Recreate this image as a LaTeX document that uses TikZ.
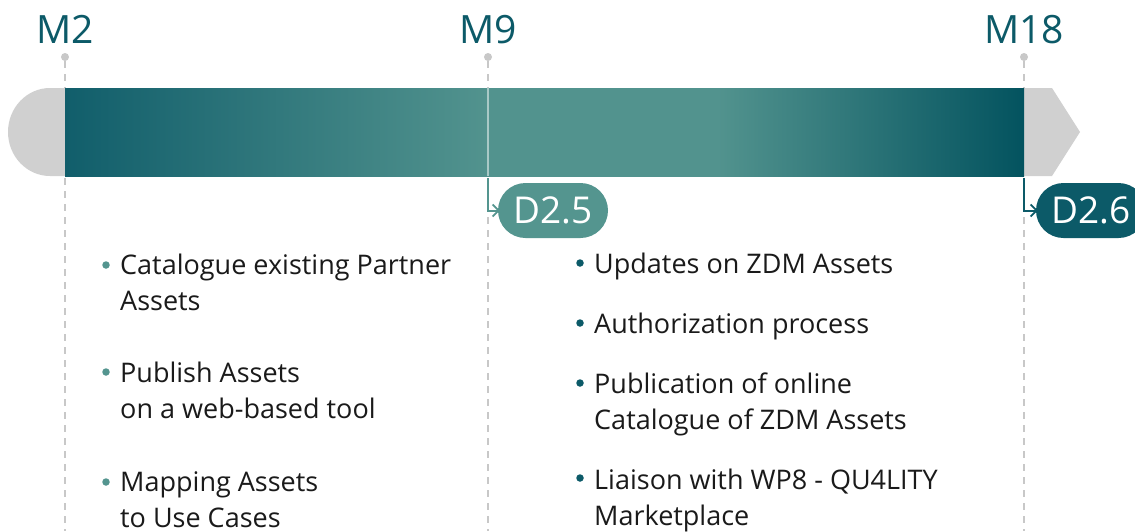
\documentclass[tikz,border=0pt]{standalone}
\usepackage{fontspec}
\setmainfont{Open Sans}
\usetikzlibrary{arrows.meta}
\definecolor{tealdark}{HTML}{0C5A68}
\definecolor{barleft}{HTML}{115E6B}
\definecolor{barright}{HTML}{03535F}
\definecolor{teallight}{HTML}{54958F}
\definecolor{barlight}{HTML}{52938E}
\definecolor{capgray}{HTML}{D0D0D0}
\definecolor{linegray}{HTML}{C8C8C8}
\definecolor{txt}{HTML}{1A1A1A}
\pgfdeclarehorizontalshading{barshade}{100bp}{color(0bp)=(barleft); color(25bp)=(barleft); color(47bp)=(barlight); color(59bp)=(barlight); color(75bp)=(barright); color(100bp)=(barright)}
\tikzset{
  x=1pt,y=-1pt,
  mlabel/.style={text=tealdark,font=\fontsize{39}{39}\selectfont,anchor=base,inner sep=0pt},
  mdot/.style={circle,fill=linegray,inner sep=0pt,minimum size=8pt},
  guide/.style={linegray,line width=1.3pt,dash pattern=on 7pt off 6pt},
  pill/.style={rounded corners=27.5pt,minimum width=110pt,minimum height=55pt,inner sep=0pt,text=white,font=\fontsize{37}{37}\selectfont},
  darrow/.style={line width=2pt,-{Straight Barb[length=6pt,width=12pt,line width=1.8pt]}},
  item/.style={anchor=base west,inner sep=0pt,align=left,text=txt,font=\fontsize{27}{35.5}\selectfont},
  bullet/.style={circle,inner sep=0pt,minimum size=7.5pt}
}
\begin{document}
\begin{tikzpicture}
\clip (0,0) rectangle (1135,531);
\fill[white] (0,0) rectangle (1135,531);
% guides
\node[mdot] (dot2) at (65,57) {};
\node[mdot] (dot9) at (488,57) {};
\node[mdot] (dot18) at (1024,57) {};
\coordinate (end2) at (65,531);
\coordinate (end9) at (488,531);
\coordinate (end18) at (1024,531);
\draw[guide] (dot2) -- (end2);
\draw[guide] (dot9) -- (end9);
\draw[guide] (dot18) -- (end18);
% labels
\node[mlabel] (m2) at (65,43) {M2};
\node[mlabel] (m9) at (488,43) {M9};
\node[mlabel] (m18) at (1024,43) {M18};
% bar
\fill[capgray] (65,88) -- (50,88) arc[start angle=270,end angle=90,x radius=42,y radius=44] -- (65,176) -- cycle;
\fill[capgray] (1024,88) -- (1052,88) -- (1080,132) -- (1052,176) -- (1024,176) -- cycle;
\shade[shading=barshade] (65,88) rectangle (1024,176);
\draw[white,opacity=0.5,line width=1.5pt] (488,88) -- (488,176);
% deliverables
\node[pill,fill=teallight] (d25) at (553,210.5) {D2.5};
\node[pill,fill=tealdark] (d26) at (1091,210.5) {D2.6};
\coordinate (s25) at (488,178);
\coordinate (s26) at (1024,178);
\draw[darrow,teallight] (s25) |- ([xshift=2pt]d25.west);
\draw[darrow,tealdark] (s26) |- ([xshift=2pt]d26.west);
% left items
\node[bullet,fill=teallight] (b1) at (106,265) {};
\node[item] (i1) at (120,310) {Catalogue existing Partner\\Assets};
\node[bullet,fill=teallight] (b2) at (106,372) {};
\node[item] (i2) at (120,418) {Publish Assets\\on a web-based tool};
\node[bullet,fill=teallight] (b3) at (106,482) {};
\node[item] (i3) at (120,527) {Mapping Assets\\to Use Cases};
% right items
\node[bullet,fill=tealdark] (c1) at (580,263) {};
\node[item] (j1) at (594,273) {Updates on ZDM Assets};
\node[bullet,fill=tealdark] (c2) at (580,323) {};
\node[item] (j2) at (594,333) {Authorization process};
\node[bullet,fill=tealdark] (c3) at (580,383) {};
\node[item] (j3) at (594,429) {Publication of online\\Catalogue of ZDM Assets};
\node[bullet,fill=tealdark] (c4) at (580,478) {};
\node[item] (j4) at (594,525) {Liaison with WP8 - QU4LITY\\Marketplace};
\end{tikzpicture}
\end{document}
